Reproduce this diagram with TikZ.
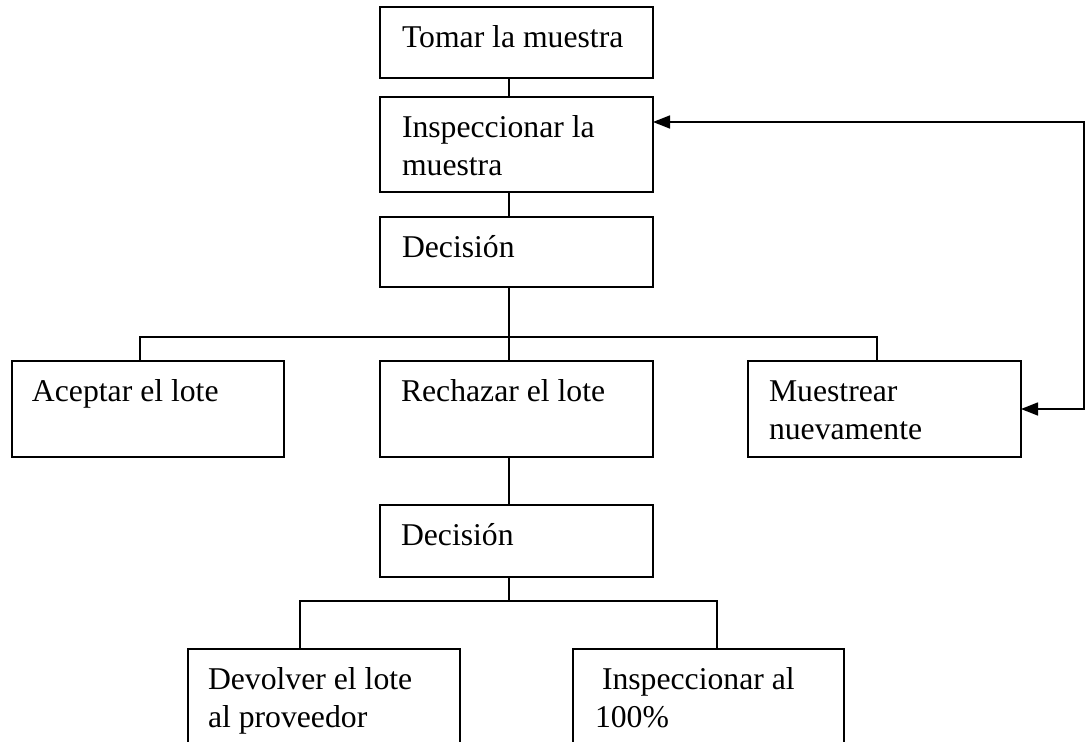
\documentclass[tikz,border=0pt]{standalone}
\usepackage{fontspec}
\setmainfont{Liberation Serif}
\usetikzlibrary{arrows.meta}
\newcommand{\bxt}[4]{\parbox[t][#2pt][t]{#1pt}{\raggedright\leftskip=#3pt\rule{0pt}{40pt}#4}}
\begin{document}
\begin{tikzpicture}[x=1pt,y=-1pt,
  box/.style={draw, line width=1.5pt, anchor=north west, inner sep=0pt, outer sep=0pt,
              font=\fontsize{31.7}{38.5}\selectfont},
  conn/.style={line width=1.5pt},
  dbl/.style={>={Triangle[length=17pt,width=13pt]}, <->}]
\useasboundingbox (0,0) rectangle (1085,742);
\clip (0,0) rectangle (1085,742);
\fill[white] (0,0) rectangle (1085,742);

\node[box] (b1)  at (380,7)   {\bxt{273}{71}{22}{Tomar la muestra}};
\node[box] (b2)  at (380,97)  {\bxt{273}{95}{22}{Inspeccionar la\\muestra}};
\node[box] (b3)  at (380,217) {\bxt{273}{70}{22}{Decisión}};
\node[box] (acc) at (12,361)  {\bxt{272}{96}{20}{Aceptar el lote}};
\node[box] (rec) at (380,361) {\bxt{273}{96}{21}{Rechazar el lote}};
\node[box] (mue) at (748,361) {\bxt{273}{96}{21}{Muestrear\\nuevamente}};
\node[box] (dec) at (380,505) {\bxt{273}{72}{21}{Decisión}};
\node[box] (dev) at (188,649) {\bxt{272}{120}{20}{Devolver el lote\\al proveedor}};
\node[box] (ins) at (573,649) {\bxt{271}{120}{22}{\hspace*{7pt}Inspeccionar al\\100\%}};

\coordinate (cx) at (509,0);
\coordinate (j1) at (509,337);
\coordinate (ja) at (140,337);
\coordinate (jm) at (877,337);
\coordinate (j2) at (509,601);
\coordinate (jd) at (300,601);
\coordinate (ji) at (717,601);
\coordinate (rr) at (1084,122);

\draw[conn] (b1.south -| cx) -- (b2.north -| cx);
\draw[conn] (b2.south -| cx) -- (b3.north -| cx);
\draw[conn] (b3.south -| cx) -- (j1);
\draw[conn] (acc.north -| ja) -- (ja) -- (jm) -- (mue.north -| jm);
\draw[conn] (j1) -- (rec.north -| j1);
\draw[conn] (rec.south -| cx) -- (dec.north -| cx);
\draw[conn] (dec.south -| cx) -- (j2);
\draw[conn] (dev.north -| jd) -- (jd) -- (ji) -- (ins.north -| ji);
\draw[conn,dbl] (mue.east) -| (rr) -- (rr -| b2.east);
\end{tikzpicture}
\end{document}
